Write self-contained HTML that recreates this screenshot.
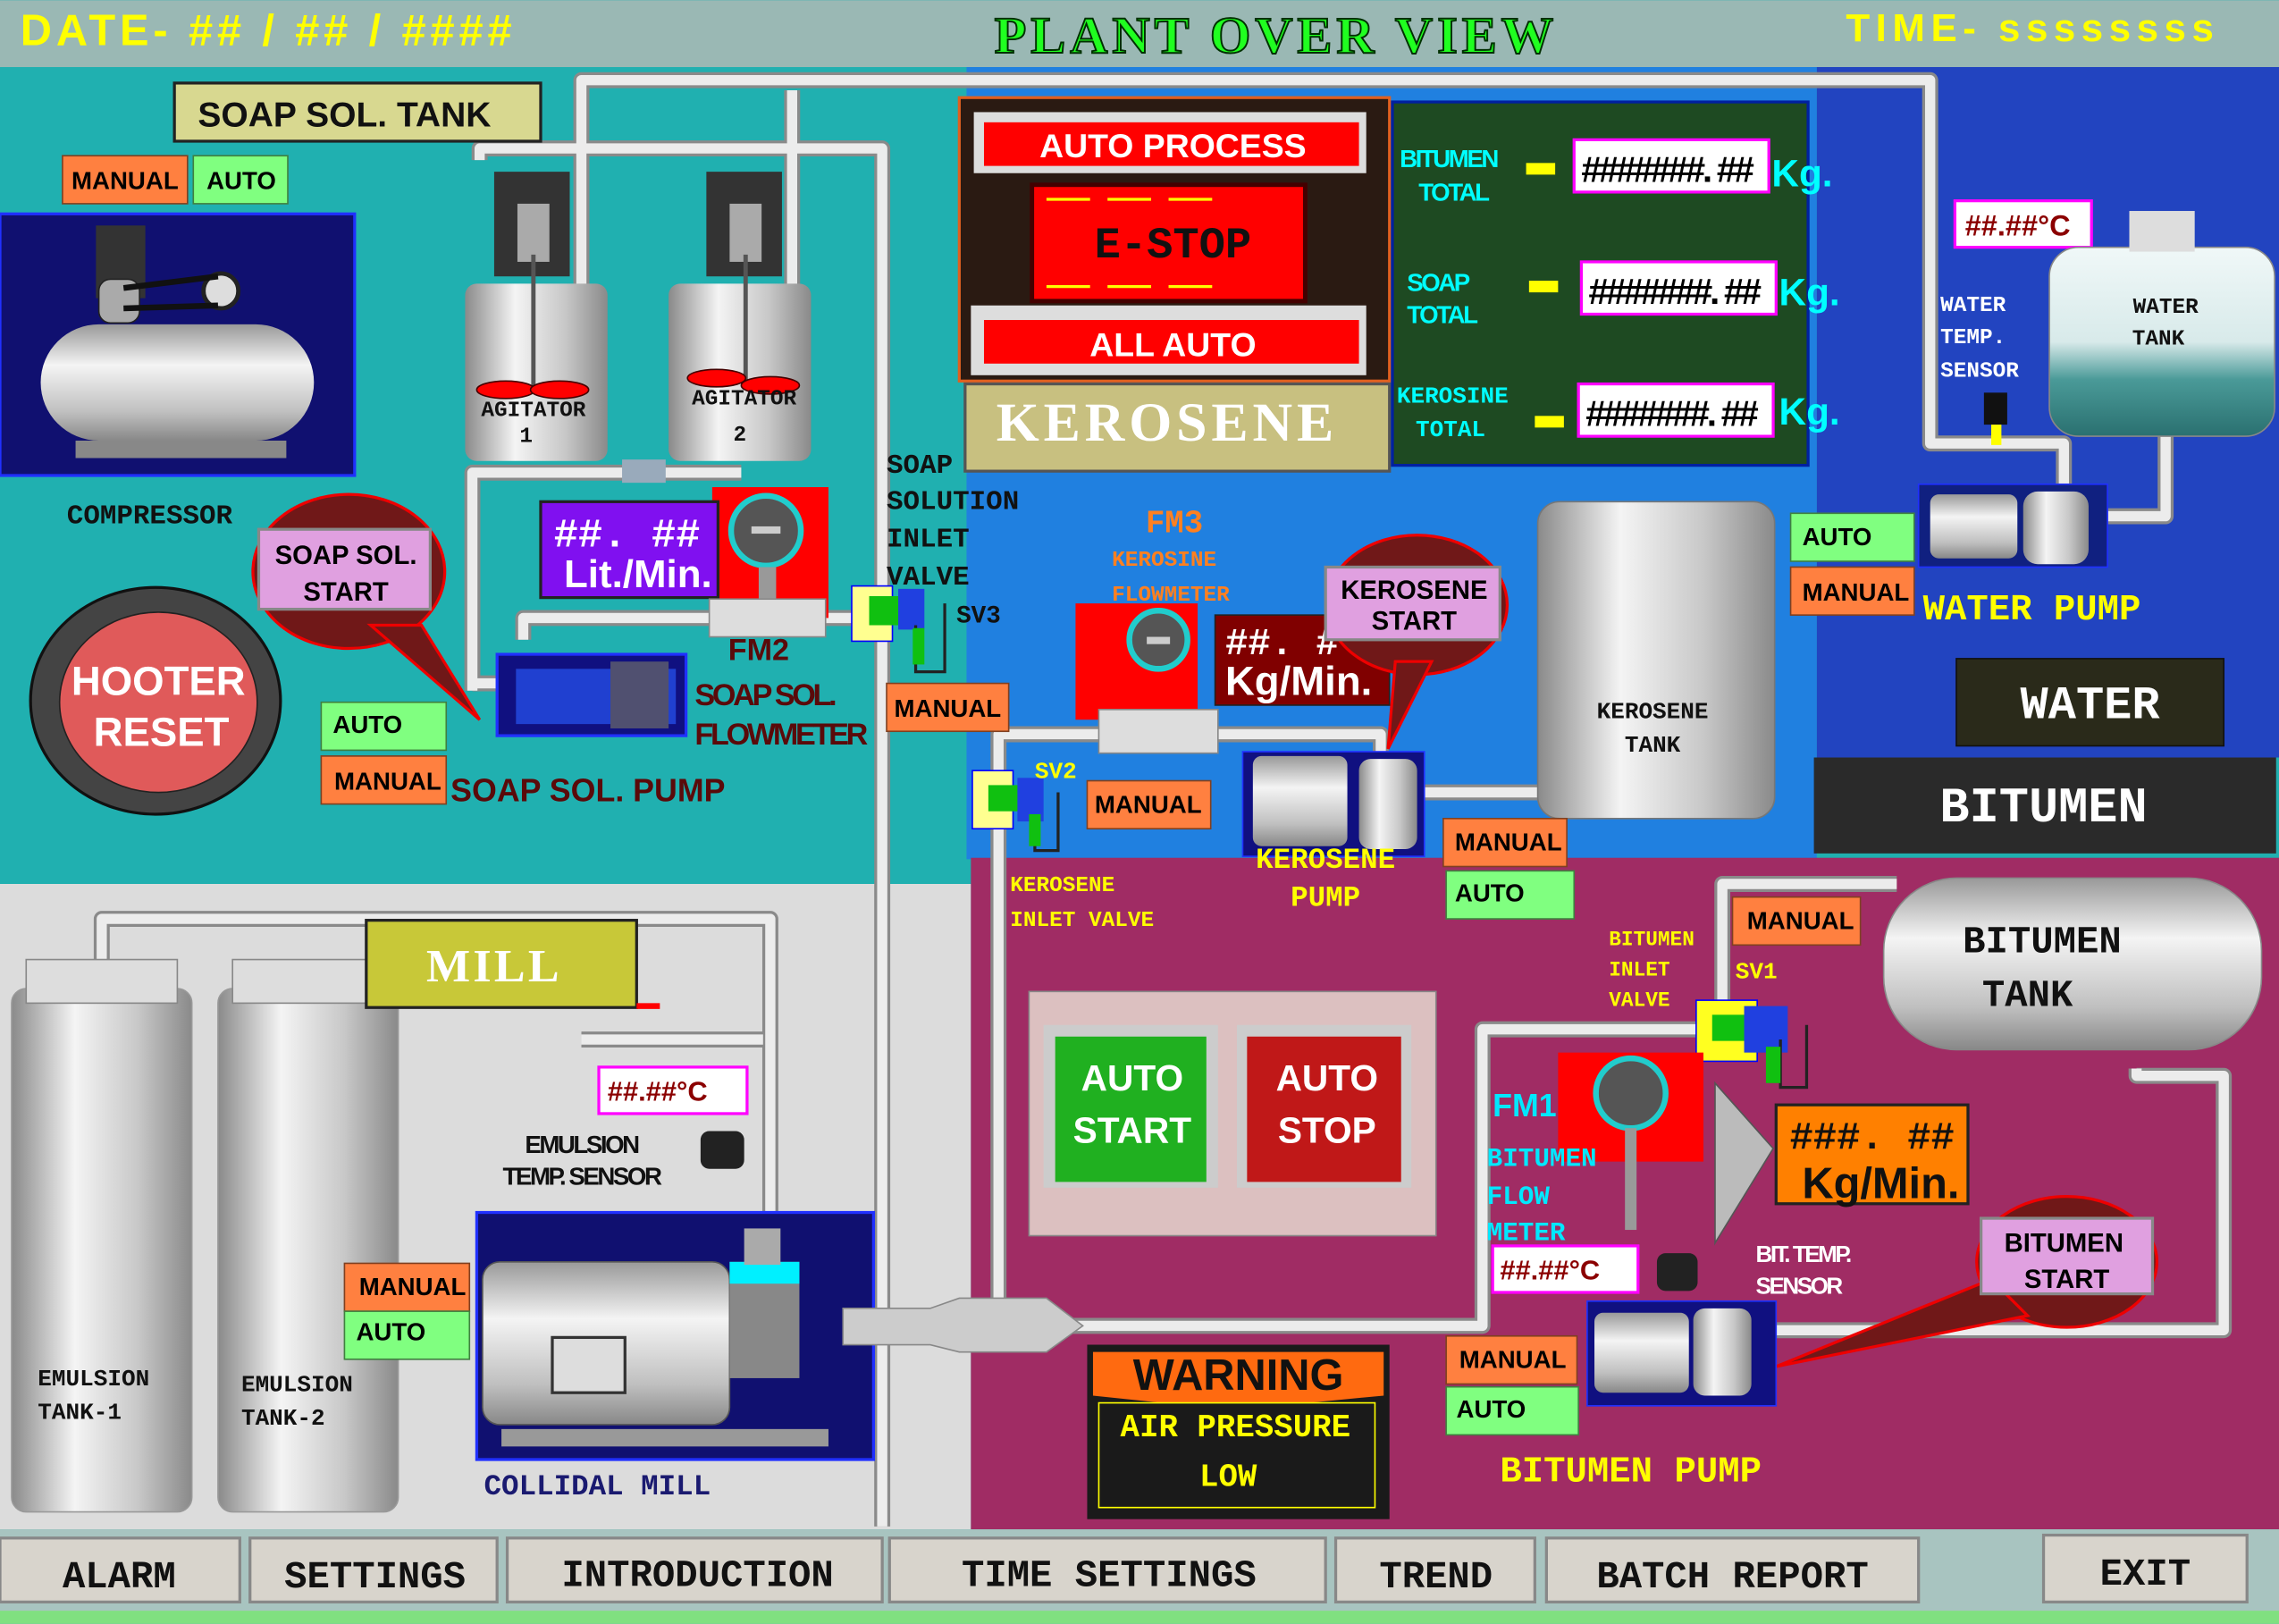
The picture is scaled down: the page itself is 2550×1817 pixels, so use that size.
<!DOCTYPE html>
<html><head><meta charset="utf-8"><style>
html,body{margin:0;padding:0;background:#20b0b0;overflow:hidden}
svg{display:block}
.s{font-family:"Liberation Sans",sans-serif;font-weight:bold}
.m{font-family:"Liberation Mono",monospace;font-weight:bold}
.sf{font-family:"Liberation Serif",serif;font-weight:bold}
.po{fill:none;stroke:#8a8a8a;stroke-width:11;stroke-linejoin:round}
.pi{fill:none;stroke:#ececec;stroke-width:7;stroke-linejoin:round}
</style></head><body>
<svg width="2550" height="1817" viewBox="0 0 1568 1117" xmlns="http://www.w3.org/2000/svg">
<defs>
<linearGradient id="cyl" x1="0" x2="1"><stop offset="0" stop-color="#8a8a8a"/><stop offset=".35" stop-color="#f4f4f4"/><stop offset=".7" stop-color="#c8c8c8"/><stop offset="1" stop-color="#8a8a8a"/></linearGradient>
<linearGradient id="cylv" x1="0" y1="0" x2="0" y2="1"><stop offset="0" stop-color="#999"/><stop offset=".35" stop-color="#f4f4f4"/><stop offset=".75" stop-color="#c0c0c0"/><stop offset="1" stop-color="#888"/></linearGradient>
<linearGradient id="wt" x1="0" y1="0" x2="0" y2="1"><stop offset="0" stop-color="#f0f8f8"/><stop offset=".5" stop-color="#d8eaea"/><stop offset=".7" stop-color="#4a9a98"/><stop offset="1" stop-color="#2a7070"/></linearGradient>
</defs>
<rect x="0" y="0" width="1568" height="1117" fill="#20b0b0"/>
<rect x="0" y="0" width="1568" height="46" fill="#9ab8b4"/>
<rect x="665" y="46" width="585" height="545" fill="#2080e0"/>
<rect x="1250" y="46" width="318" height="475" fill="#2244c0"/>
<rect x="1248" y="521" width="318" height="66" fill="#2a2a2a"/>
<rect x="0" y="608" width="668" height="444" fill="#dcdcdc"/>
<rect x="668" y="590" width="900" height="462" fill="#a02c64"/>
<rect x="0" y="1052" width="1568" height="65" fill="#a8c4c0"/>
<rect x="0" y="1108" width="1568" height="9" fill="#80e080"/>
<text x="14" y="31" class="s" font-size="30" fill="#ffff00" letter-spacing="3">DATE- ## / ## / ####</text>
<text x="878" y="36" class="sf" font-size="36" fill="#20ff20" stroke="#003000" stroke-width="1.2" text-anchor="middle" letter-spacing="3">PLANT  OVER  VIEW</text>
<text x="1270" y="28" class="s" font-size="27" fill="#ffff00" letter-spacing="4">TIME- ssssssss</text>

<g>
<path class="po" d="M400,200 V55 H1328 V305 H1420 V340 M545,200 V62 M330,110 V102 H607 V1050 M325,475 V325 H510 M345,470 H325 M360,440 V425 H590 M687,900 V505 H950 V522 M980,545 H1065 M70,665 V632 H530 V845 M580,912 H1020 V708 H1180 M1470,735 V740 H1530 V915 H1200 M1185,700 V608 H1305 M1440,355 H1490 V300 M400,715 H525"/>
<path class="pi" d="M400,200 V55 H1328 V305 H1420 V340 M545,200 V62 M330,110 V102 H607 V1050 M325,475 V325 H510 M345,470 H325 M360,440 V425 H590 M687,900 V505 H950 V522 M980,545 H1065 M70,665 V632 H530 V845 M580,912 H1020 V708 H1180 M1470,735 V740 H1530 V915 H1200 M1185,700 V608 H1305 M1440,355 H1490 V300 M400,715 H525"/>
</g>

<rect x="120" y="57" width="252" height="40" fill="#d8d890" stroke="#222" stroke-width="2"/>
<text x="237" y="87" class="s" font-size="24" fill="#111" text-anchor="middle">SOAP SOL. TANK</text>
<rect x="43" y="107" width="86" height="33" fill="#ff8040" stroke="#804020"/>
<text x="86" y="130" class="s" font-size="17" fill="#000" text-anchor="middle">MANUAL</text>
<rect x="133" y="107" width="65" height="33" fill="#80ff80" stroke="#408040"/>
<text x="166" y="130" class="s" font-size="17" fill="#000" text-anchor="middle">AUTO</text>

<rect x="0" y="147" width="244" height="180" fill="#101070" stroke="#2030ff" stroke-width="2"/>
<rect x="28" y="223" width="188" height="80" rx="40" fill="url(#cylv)"/>
<rect x="52" y="303" width="145" height="12" fill="#888"/>
<rect x="66" y="155" width="34" height="50" fill="#333"/>
<rect x="68" y="192" width="28" height="30" rx="8" fill="#aaa" stroke="#222"/>
<circle cx="152" cy="200" r="12" fill="#ddd" stroke="#222" stroke-width="3"/>
<path d="M85,198 L150,190 M85,212 L150,210" stroke="#111" stroke-width="4"/>
<text x="46" y="360" class="m" font-size="19" fill="#111">COMPRESSOR</text>

<g>
<rect x="340" y="118" width="52" height="72" fill="#333"/>
<rect x="356" y="140" width="22" height="40" fill="#aaa"/>
<rect x="320" y="195" width="98" height="122" rx="8" fill="url(#cyl)"/>
<line x1="367" y1="175" x2="367" y2="270" stroke="#555" stroke-width="3"/>
<ellipse cx="348" cy="268" rx="20" ry="6" fill="#f00" stroke="#400"/>
<ellipse cx="385" cy="268" rx="20" ry="6" fill="#f00" stroke="#400"/>
<text x="367" y="286" class="m" font-size="15" fill="#111" text-anchor="middle">AGITATOR</text>
<text x="362" y="304" class="m" font-size="15" fill="#111" text-anchor="middle">1</text>
<rect x="486" y="118" width="52" height="72" fill="#333"/>
<rect x="502" y="140" width="22" height="40" fill="#aaa"/>
<rect x="460" y="195" width="98" height="122" rx="8" fill="url(#cyl)"/>
<line x1="513" y1="175" x2="513" y2="262" stroke="#555" stroke-width="3"/>
<ellipse cx="493" cy="260" rx="20" ry="6" fill="#f00" stroke="#400"/>
<ellipse cx="530" cy="265" rx="20" ry="6" fill="#f00" stroke="#400"/>
<text x="512" y="278" class="m" font-size="15" fill="#111" text-anchor="middle">AGITATOR</text>
<text x="509" y="303" class="m" font-size="15" fill="#111" text-anchor="middle">2</text>
<rect x="428" y="316" width="30" height="16" fill="#9ab"/>
</g>

<ellipse cx="240" cy="393" rx="66" ry="53" fill="#701818" stroke="#e00" stroke-width="2"/>
<path d="M255,430 L330,495 L290,430 Z" fill="#701818" stroke="#e00" stroke-width="2"/>
<rect x="178" y="364" width="118" height="55" fill="#e0a0e0" stroke="#888" stroke-width="2"/>
<text x="238" y="388" class="s" font-size="18" fill="#000" text-anchor="middle">SOAP SOL.</text>
<text x="238" y="413" class="s" font-size="18" fill="#000" text-anchor="middle">START</text>

<ellipse cx="107" cy="482" rx="86" ry="78" fill="#444" stroke="#111" stroke-width="2"/>
<ellipse cx="109" cy="483" rx="68" ry="62" fill="#e05a5a" stroke="#222"/>
<text x="109" y="478" class="s" font-size="28" fill="#fff" text-anchor="middle">HOOTER</text>
<text x="111" y="513" class="s" font-size="28" fill="#fff" text-anchor="middle">RESET</text>

<rect x="221" y="483" width="86" height="33" fill="#80ff80" stroke="#408040"/>
<text x="229" y="504" class="s" font-size="17" fill="#000">AUTO</text>
<rect x="221" y="520" width="86" height="33" fill="#ff8040" stroke="#804020"/>
<text x="230" y="543" class="s" font-size="17" fill="#000">MANUAL</text>
<rect x="342" y="450" width="130" height="56" fill="#101080" stroke="#2030ff" stroke-width="2"/>
<rect x="355" y="460" width="110" height="38" fill="#2040d0"/>
<rect x="420" y="455" width="40" height="46" fill="#505070"/>
<text x="310" y="551" class="s" font-size="22" fill="#5a0a0a">SOAP SOL. PUMP</text>

<rect x="490" y="335" width="80" height="90" fill="#f00"/>
<circle cx="527" cy="365" r="24" fill="#555" stroke="#2cc" stroke-width="4"/>
<rect x="517" y="362" width="20" height="5" fill="#ccc"/>
<rect x="522" y="390" width="12" height="30" fill="#999"/>
<rect x="372" y="345" width="122" height="66" fill="#8010f0" stroke="#222" stroke-width="2"/>
<text x="381" y="376" class="m" font-size="28" fill="#fff">##. ##</text>
<text x="388" y="404" class="s" font-size="27" fill="#fff">Lit./Min.</text>
<rect x="488" y="412" width="80" height="26" fill="#ddd" stroke="#888"/>
<text x="522" y="454" class="s" font-size="21" fill="#5a0a0a" text-anchor="middle">FM2</text>
<text x="478" y="485" class="s" font-size="21" fill="#5a0a0a" letter-spacing="-2">SOAP SOL.</text>
<text x="478" y="512" class="s" font-size="21" fill="#5a0a0a" letter-spacing="-2">FLOWMETER</text>

<text x="610" y="325" class="m" font-size="19" fill="#111">SOAP</text>
<text x="610" y="350" class="m" font-size="19" fill="#111">SOLUTION</text>
<text x="610" y="376" class="m" font-size="19" fill="#111">INLET</text>
<text x="610" y="402" class="m" font-size="19" fill="#111">VALVE</text>
<rect x="586" y="403" width="28" height="38" fill="#ffff90" stroke="#00f"/>
<rect x="598" y="410" width="30" height="20" fill="#10c010"/>
<rect x="618" y="405" width="18" height="28" fill="#2040e0"/>
<path d="M630,430 V462 H650 V415" fill="none" stroke="#222" stroke-width="2"/>
<rect x="628" y="432" width="8" height="25" fill="#10c010"/>
<text x="658" y="428" class="m" font-size="17" fill="#111">SV3</text>
<rect x="610" y="470" width="84" height="33" fill="#ff8040" stroke="#804020"/>
<text x="652" y="493" class="s" font-size="17" fill="#000" text-anchor="middle">MANUAL</text>

<rect x="660" y="67" width="296" height="195" fill="#2a1a12" stroke="#e06020" stroke-width="2"/>
<rect x="670" y="77" width="270" height="42" fill="#ddd"/>
<rect x="677" y="84" width="258" height="30" fill="#f00"/>
<text x="807" y="108" class="s" font-size="23" fill="#fff" text-anchor="middle">AUTO  PROCESS</text>
<rect x="710" y="127" width="188" height="80" fill="#f00" stroke="#400" stroke-width="3"/>
<path d="M720,137 h30 m12,0 h30 m12,0 h30 M720,197 h30 m12,0 h30 m12,0 h30" stroke="#ff0" stroke-width="2"/>
<text x="807" y="177" class="m" font-size="30" fill="#111" text-anchor="middle">E-STOP</text>
<rect x="668" y="210" width="272" height="48" fill="#ddd"/>
<rect x="677" y="220" width="258" height="30" fill="#f00"/>
<text x="807" y="245" class="s" font-size="23" fill="#fff" text-anchor="middle">ALL  AUTO</text>
<rect x="664" y="264" width="292" height="60" fill="#c8c080" stroke="#555" stroke-width="2"/>
<text x="803" y="303" class="sf" font-size="38" fill="#fff" text-anchor="middle" letter-spacing="3">KEROSENE</text>

<rect x="958" y="70" width="286" height="250" fill="#1e4a22" stroke="#0020a0" stroke-width="2"/>
<text x="963" y="115" class="s" font-size="17" fill="#00ffff" letter-spacing="-1.5">BITUMEN</text>
<text x="976" y="138" class="s" font-size="17" fill="#00ffff" letter-spacing="-1.5">TOTAL</text>
<text x="968" y="200" class="s" font-size="17" fill="#00ffff" letter-spacing="-1.5">SOAP</text>
<text x="968" y="222" class="s" font-size="17" fill="#00ffff" letter-spacing="-1.5">TOTAL</text>
<text x="961" y="277" class="m" font-size="16" fill="#00ffff">KEROSINE</text>
<text x="974" y="300" class="m" font-size="16" fill="#00ffff">TOTAL</text>
<rect x="1050" y="112" width="20" height="8" fill="#ff0"/>
<rect x="1052" y="193" width="20" height="8" fill="#ff0"/>
<rect x="1056" y="286" width="20" height="8" fill="#ff0"/>
<g class="s" font-size="25" fill="#000">
<rect x="1083" y="96" width="134" height="36" fill="#fff" stroke="#f0f" stroke-width="2"/>
<text x="1088" y="125" letter-spacing="-2">#######. ##</text>
<rect x="1088" y="180" width="134" height="36" fill="#fff" stroke="#f0f" stroke-width="2"/>
<text x="1093" y="209" letter-spacing="-2">#######. ##</text>
<rect x="1086" y="264" width="134" height="36" fill="#fff" stroke="#f0f" stroke-width="2"/>
<text x="1091" y="293" letter-spacing="-2">#######. ##</text>
</g>
<text x="1219" y="128" class="s" font-size="26" fill="#00ffff" font-weight="normal">Kg.</text>
<text x="1224" y="210" class="s" font-size="26" fill="#00ffff">Kg.</text>
<text x="1224" y="292" class="s" font-size="26" fill="#00ffff">Kg.</text>

<rect x="1345" y="138" width="94" height="32" fill="#fff" stroke="#f0f" stroke-width="2"/>
<text x="1352" y="162" class="s" font-size="20" fill="#8b0000">##.##°C</text>
<rect x="1410" y="170" width="155" height="130" rx="20" fill="url(#wt)" stroke="#888"/>
<rect x="1465" y="145" width="45" height="28" fill="#ddd"/>
<text x="1490" y="215" class="m" font-size="15" fill="#111" text-anchor="middle">WATER</text>
<text x="1485" y="237" class="m" font-size="15" fill="#111" text-anchor="middle">TANK</text>
<text x="1335" y="214" class="m" font-size="15" fill="#fff">WATER</text>
<text x="1335" y="236" class="m" font-size="15" fill="#fff">TEMP.</text>
<text x="1335" y="259" class="m" font-size="15" fill="#fff">SENSOR</text>
<rect x="1365" y="270" width="16" height="22" fill="#111"/>
<rect x="1370" y="292" width="7" height="14" fill="#ff0"/>
<rect x="1232" y="353" width="85" height="33" fill="#80ff80" stroke="#408040"/>
<text x="1240" y="375" class="s" font-size="17" fill="#000">AUTO</text>
<rect x="1232" y="390" width="85" height="33" fill="#ff8040" stroke="#804020"/>
<text x="1240" y="413" class="s" font-size="17" fill="#000">MANUAL</text>
<rect x="1320" y="333" width="130" height="57" fill="#102080" stroke="#2030ff"/>
<rect x="1328" y="340" width="60" height="44" rx="6" fill="url(#cylv)"/>
<rect x="1392" y="338" width="45" height="50" rx="10" fill="url(#cyl)"/>
<text x="1323" y="426" class="m" font-size="25" fill="#ffff00">WATER  PUMP</text>
<rect x="1346" y="453" width="184" height="60" fill="#2a2a1a" stroke="#111"/>
<text x="1438" y="494" class="m" font-size="32" fill="#fff" text-anchor="middle">WATER</text>
<text x="1406" y="565" class="m" font-size="34" fill="#fff" text-anchor="middle">BITUMEN</text>

<rect x="1058" y="345" width="163" height="218" rx="15" fill="url(#cyl)" stroke="#777"/>
<text x="1137" y="494" class="m" font-size="16" fill="#111" text-anchor="middle">KEROSENE</text>
<text x="1137" y="517" class="m" font-size="16" fill="#111" text-anchor="middle">TANK</text>
<rect x="993" y="563" width="85" height="33" fill="#ff8040" stroke="#804020"/>
<text x="1001" y="585" class="s" font-size="17" fill="#000">MANUAL</text>
<rect x="995" y="599" width="88" height="33" fill="#80ff80" stroke="#408040"/>
<text x="1001" y="620" class="s" font-size="17" fill="#000">AUTO</text>

<text x="808" y="366" class="m" font-size="22" fill="#ff8020" text-anchor="middle">FM3</text>
<text x="765" y="389" class="m" font-size="15" fill="#ff8020">KEROSINE</text>
<text x="765" y="413" class="m" font-size="15" fill="#ff8020">FLOWMETER</text>
<rect x="740" y="415" width="84" height="80" fill="#f00"/>
<circle cx="797" cy="440" r="20" fill="#555" stroke="#2cc" stroke-width="4"/>
<rect x="789" y="438" width="16" height="5" fill="#ccc"/>
<rect x="836" y="423" width="120" height="62" fill="#800000" stroke="#222"/>
<text x="843" y="450" class="m" font-size="26" fill="#fff">##. #</text>
<text x="843" y="478" class="s" font-size="28" fill="#fff">Kg/Min.</text>
<ellipse cx="975" cy="416" rx="62" ry="48" fill="#701818" stroke="#e00" stroke-width="2"/>
<path d="M960,455 L955,515 L985,455 Z" fill="#701818" stroke="#e00" stroke-width="2"/>
<rect x="912" y="390" width="120" height="50" fill="#e0a0e0" stroke="#888" stroke-width="2"/>
<text x="973" y="412" class="s" font-size="18" fill="#000" text-anchor="middle">KEROSENE</text>
<text x="973" y="433" class="s" font-size="18" fill="#000" text-anchor="middle">START</text>
<rect x="756" y="488" width="82" height="30" fill="#ddd" stroke="#888"/>
<rect x="855" y="517" width="125" height="72" fill="#101080" stroke="#2030ff"/>
<rect x="862" y="520" width="65" height="62" rx="6" fill="url(#cylv)"/>
<rect x="935" y="522" width="40" height="62" rx="8" fill="url(#cyl)"/>
<text x="912" y="597" class="m" font-size="20" fill="#ffff00" text-anchor="middle">KEROSENE</text>
<text x="912" y="623" class="m" font-size="20" fill="#ffff00" text-anchor="middle">PUMP</text>
<rect x="669" y="530" width="28" height="40" fill="#ffff90" stroke="#00f"/>
<rect x="680" y="540" width="30" height="18" fill="#10c010"/>
<rect x="700" y="535" width="18" height="30" fill="#2040e0"/>
<path d="M712,560 V585 H728 V545" fill="none" stroke="#222" stroke-width="2"/>
<rect x="708" y="560" width="8" height="22" fill="#10c010"/>
<text x="712" y="535" class="m" font-size="16" fill="#ffff00">SV2</text>
<rect x="748" y="537" width="85" height="33" fill="#ff8040" stroke="#804020"/>
<text x="790" y="559" class="s" font-size="17" fill="#000" text-anchor="middle">MANUAL</text>
<text x="695" y="613" class="m" font-size="15" fill="#ffff00">KEROSENE</text>
<text x="695" y="637" class="m" font-size="15" fill="#ffff00">INLET  VALVE</text>

<g>
<rect x="8" y="680" width="124" height="360" rx="10" fill="url(#cyl)" stroke="#999"/>
<rect x="18" y="660" width="104" height="30" fill="#ddd" stroke="#888"/>
<rect x="150" y="680" width="124" height="360" rx="10" fill="url(#cyl)" stroke="#999"/>
<rect x="160" y="660" width="104" height="30" fill="#ddd" stroke="#888"/>
<text x="26" y="953" class="m" font-size="16" fill="#111">EMULSION</text>
<text x="26" y="976" class="m" font-size="16" fill="#111">TANK-1</text>
<text x="166" y="957" class="m" font-size="16" fill="#111">EMULSION</text>
<text x="166" y="980" class="m" font-size="16" fill="#111">TANK-2</text>
</g>
<rect x="252" y="633" width="186" height="60" fill="#c8c838" stroke="#222" stroke-width="2"/>
<text x="340" y="675" class="sf" font-size="32" fill="#fff" text-anchor="middle" letter-spacing="2">MILL</text>
<rect x="438" y="690" width="16" height="4" fill="#f00"/>
<rect x="412" y="734" width="102" height="32" fill="#fff" stroke="#f0f" stroke-width="2"/>
<text x="418" y="757" class="s" font-size="19" fill="#8b0000">##.##°C</text>
<text x="400" y="793" class="s" font-size="17" fill="#111" text-anchor="middle" letter-spacing="-1.5">EMULSION</text>
<text x="400" y="815" class="s" font-size="17" fill="#111" text-anchor="middle" letter-spacing="-1.5">TEMP. SENSOR</text>
<rect x="482" y="778" width="30" height="26" rx="6" fill="#222"/>
<rect x="328" y="834" width="273" height="170" fill="#101070" stroke="#2030ff" stroke-width="2"/>
<rect x="332" y="868" width="170" height="112" rx="12" fill="url(#cylv)" stroke="#555"/>
<rect x="380" y="920" width="50" height="38" fill="#ddd" stroke="#333" stroke-width="2"/>
<rect x="502" y="868" width="48" height="80" fill="#888"/>
<rect x="502" y="868" width="48" height="15" fill="#00f0ff"/>
<rect x="512" y="845" width="25" height="25" fill="#aaa"/>
<rect x="345" y="983" width="225" height="12" fill="#999"/>
<rect x="237" y="869" width="86" height="33" fill="#ff8040" stroke="#804020"/>
<text x="247" y="891" class="s" font-size="17" fill="#000">MANUAL</text>
<rect x="237" y="902" width="86" height="33" fill="#80ff80" stroke="#408040"/>
<text x="245" y="922" class="s" font-size="17" fill="#000">AUTO</text>
<text x="333" y="1028" class="m" font-size="20" fill="#1a1a70">COLLIDAL  MILL</text>
<path d="M580,900 H640 L660,893 H720 L745,912 L720,930 H660 L640,925 H580Z" fill="#ccc" stroke="#888"/>

<rect x="708" y="682" width="280" height="168" fill="#dcc0c0" stroke="#888"/>
<rect x="718" y="705" width="120" height="112" fill="#ccc"/>
<rect x="726" y="713" width="104" height="100" fill="#20b020"/>
<text x="779" y="750" class="s" font-size="25" fill="#fff" text-anchor="middle">AUTO</text>
<text x="779" y="786" class="s" font-size="25" fill="#fff" text-anchor="middle">START</text>
<rect x="851" y="705" width="120" height="112" fill="#ccc"/>
<rect x="858" y="713" width="106" height="100" fill="#c01818"/>
<text x="913" y="750" class="s" font-size="25" fill="#fff" text-anchor="middle">AUTO</text>
<text x="913" y="786" class="s" font-size="25" fill="#fff" text-anchor="middle">STOP</text>

<rect x="748" y="925" width="208" height="120" fill="#1a1a1a"/>
<polygon points="752,930 952,930 952,960 900,965 800,965 752,960" fill="#ff6a10"/>
<text x="852" y="956" class="s" font-size="30" fill="#111" text-anchor="middle">WARNING</text>
<rect x="756" y="965" width="190" height="72" fill="none" stroke="#ff0"/>
<text x="850" y="988" class="m" font-size="22" fill="#ffff00" text-anchor="middle">AIR PRESSURE</text>
<text x="845" y="1022" class="m" font-size="22" fill="#ffff00" text-anchor="middle">LOW</text>

<rect x="1296" y="604" width="260" height="118" rx="50" fill="url(#cylv)" stroke="#888"/>
<text x="1405" y="655" class="m" font-size="26" fill="#111" text-anchor="middle">BITUMEN</text>
<text x="1395" y="692" class="m" font-size="26" fill="#111" text-anchor="middle">TANK</text>
<rect x="1192" y="617" width="88" height="33" fill="#ff8040" stroke="#804020"/>
<text x="1202" y="639" class="s" font-size="17" fill="#000">MANUAL</text>
<text x="1107" y="650" class="m" font-size="14" fill="#ffff00">BITUMEN</text>
<text x="1107" y="671" class="m" font-size="14" fill="#ffff00">INLET</text>
<text x="1107" y="692" class="m" font-size="14" fill="#ffff00">VALVE</text>
<text x="1194" y="673" class="m" font-size="16" fill="#ffff00">SV1</text>
<rect x="1167" y="688" width="42" height="42" fill="#ffff20" stroke="#00f"/>
<rect x="1178" y="698" width="30" height="18" fill="#10c010"/>
<rect x="1200" y="692" width="30" height="32" fill="#2040e0"/>
<path d="M1225,715 V748 H1243 V705" fill="none" stroke="#222" stroke-width="2"/>
<rect x="1215" y="720" width="10" height="25" fill="#10c010"/>
<rect x="1072" y="724" width="100" height="75" fill="#f00"/>
<circle cx="1122" cy="752" r="24" fill="#555" stroke="#2cc" stroke-width="4"/>
<rect x="1118" y="776" width="8" height="70" fill="#999"/>
<polygon points="1180,745 1220,790 1180,855" fill="#bbb" stroke="#555"/>
<text x="1027" y="768" class="s" font-size="22" fill="#00e8ff">FM1</text>
<text x="1023" y="802" class="m" font-size="18" fill="#00e8ff">BITUMEN</text>
<text x="1023" y="828" class="m" font-size="18" fill="#00e8ff">FLOW</text>
<text x="1023" y="853" class="m" font-size="18" fill="#00e8ff">METER</text>
<rect x="1222" y="760" width="132" height="68" fill="#ff8000" stroke="#222" stroke-width="2"/>
<text x="1288" y="790" class="m" font-size="27" fill="#111" text-anchor="middle">###. ##</text>
<text x="1294" y="824" class="s" font-size="30" fill="#111" text-anchor="middle">Kg/Min.</text>
<rect x="1027" y="857" width="100" height="32" fill="#fff" stroke="#f0f" stroke-width="2"/>
<text x="1032" y="880" class="s" font-size="19" fill="#8b0000">##.##°C</text>
<rect x="1140" y="862" width="28" height="26" rx="6" fill="#222"/>
<text x="1208" y="868" class="s" font-size="16" fill="#fff" letter-spacing="-1.5">BIT. TEMP.</text>
<text x="1208" y="890" class="s" font-size="16" fill="#fff" letter-spacing="-1.5">SENSOR</text>
<ellipse cx="1422" cy="868" rx="62" ry="45" fill="#701818" stroke="#e00" stroke-width="2"/>
<path d="M1370,880 L1222,940 L1395,905 Z" fill="#701818" stroke="#e00" stroke-width="2"/>
<rect x="1363" y="838" width="118" height="52" fill="#e0a0e0" stroke="#888" stroke-width="2"/>
<text x="1420" y="861" class="s" font-size="18" fill="#000" text-anchor="middle">BITUMEN</text>
<text x="1422" y="886" class="s" font-size="18" fill="#000" text-anchor="middle">START</text>
<rect x="1092" y="895" width="130" height="72" fill="#101080" stroke="#2030ff"/>
<rect x="1097" y="903" width="65" height="55" rx="6" fill="url(#cylv)"/>
<rect x="1165" y="900" width="40" height="60" rx="8" fill="url(#cyl)"/>
<rect x="995" y="919" width="90" height="33" fill="#ff8040" stroke="#804020"/>
<text x="1004" y="941" class="s" font-size="17" fill="#000">MANUAL</text>
<rect x="995" y="954" width="91" height="33" fill="#80ff80" stroke="#408040"/>
<text x="1002" y="975" class="s" font-size="17" fill="#000">AUTO</text>
<text x="1122" y="1019" class="m" font-size="25" fill="#ffff00" text-anchor="middle">BITUMEN  PUMP</text>

<g class="m" font-size="26" fill="#111" text-anchor="middle">
<rect x="0" y="1058" width="165" height="44" fill="#d8d4cc" stroke="#888" stroke-width="2"/>
<text x="82" y="1092">ALARM</text>
<rect x="172" y="1058" width="170" height="44" fill="#d8d4cc" stroke="#888" stroke-width="2"/>
<text x="258" y="1092">SETTINGS</text>
<rect x="349" y="1058" width="258" height="44" fill="#d8d4cc" stroke="#888" stroke-width="2"/>
<text x="480" y="1091">INTRODUCTION</text>
<rect x="612" y="1058" width="300" height="44" fill="#d8d4cc" stroke="#888" stroke-width="2"/>
<text x="763" y="1091">TIME SETTINGS</text>
<rect x="919" y="1058" width="137" height="44" fill="#d8d4cc" stroke="#888" stroke-width="2"/>
<text x="988" y="1092">TREND</text>
<rect x="1064" y="1058" width="256" height="44" fill="#d8d4cc" stroke="#888" stroke-width="2"/>
<text x="1192" y="1092">BATCH REPORT</text>
<rect x="1406" y="1056" width="140" height="46" fill="#d8d4cc" stroke="#888" stroke-width="2"/>
<text x="1476" y="1090">EXIT</text>
</g>
</svg>
</body></html>
